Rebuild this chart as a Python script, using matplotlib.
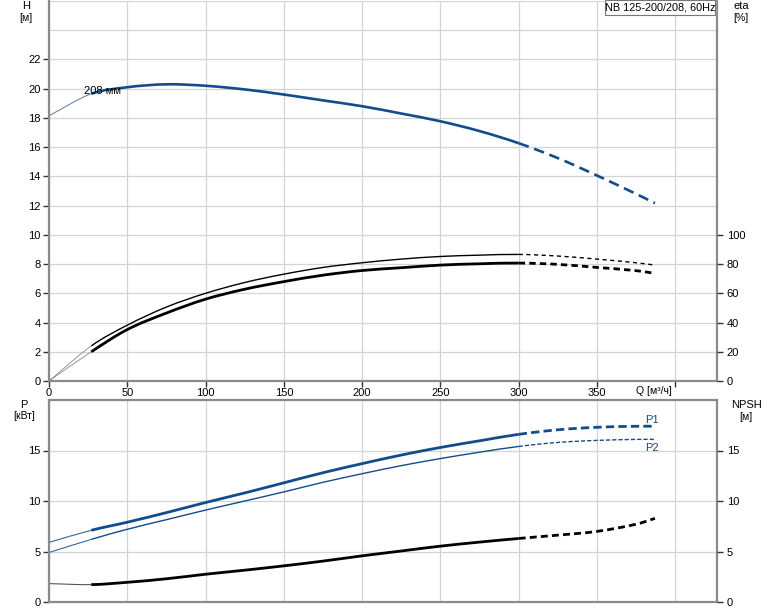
import matplotlib
matplotlib.use("Agg")
import matplotlib.pyplot as plt
from matplotlib.patches import Rectangle, PathPatch
from matplotlib.path import Path

plt.rcParams['font.family'] = ['Liberation Sans', 'DejaVu Sans']

# ---------------- data ----------------
Q = [0, 27, 50, 75, 100, 125, 150, 175, 200, 225, 250, 275, 300, 325, 350, 375, 387]
H = [18.15, 19.65, 20.1, 20.3, 20.2, 19.95, 19.6, 19.2, 18.8, 18.3, 17.77, 17.1, 16.27, 15.25, 14.06, 12.8, 12.17]
ETA_UP = [0, 24, 38.2, 50.6, 60.0, 67.4, 73.1, 77.7, 80.9, 83.4, 85.2, 86.1, 86.6, 85.5, 83.4, 80.9, 79.3]
ETA_LO = [0, 20, 35.2, 46.5, 56.0, 62.8, 68.0, 72.4, 75.6, 77.5, 79.3, 80.2, 80.7, 79.8, 77.7, 75.5, 73.6]
P1 = [5.9, 7.1, 7.9, 8.85, 9.85, 10.8, 11.8, 12.8, 13.7, 14.55, 15.3, 15.96, 16.6, 17.05, 17.3, 17.4, 17.4]
P2 = [4.9, 6.2, 7.2, 8.15, 9.1, 10.0, 10.9, 11.85, 12.7, 13.5, 14.2, 14.83, 15.4, 15.8, 16.0, 16.1, 16.1]
NPSH = [1.82, 1.72, 1.95, 2.3, 2.75, 3.15, 3.58, 4.05, 4.57, 5.05, 5.53, 5.93, 6.29, 6.62, 6.99, 7.7, 8.28]

H_TICKS = [0, 2, 4, 6, 8, 10, 12, 14, 16, 18, 20, 22]
ETA_TICKS = [0, 20, 40, 60, 80, 100]
P_TICKS = [0, 5, 10, 15]
Q_TICKS = [0, 50, 100, 150, 200, 250, 300, 350]
TITLE = "NB 125-200/208, 60Hz"
CURVE_LABEL = "208 мм"

BLUE = '#124c8c'
GRID = '#d4d4d4'
SPINE = '#8a8a8a'
FS = 8

W, Hh = 774, 611
fig = plt.figure(figsize=(W / 100, Hh / 100), dpi=100)


def fx(px):
    return px / W


def fy(py):
    return 1 - py / Hh


xl, xr = 49, 717
xmax = (xr - xl) / 1.5657

ax1 = fig.add_axes([fx(xl), fy(381), fx(xr - xl), (381 - 1) / Hh])
ax2 = fig.add_axes([fx(xl), fy(602), fx(xr - xl), (602 - 400) / Hh])

i0 = 1   # index where operating range starts
i1 = 12  # index of Q=300, dashed after


def slopes(xs, ys):
    n = len(xs)
    m = []
    for i in range(n):
        if i == 0:
            m.append((ys[1] - ys[0]) / (xs[1] - xs[0]))
        elif i == n - 1:
            m.append((ys[-1] - ys[-2]) / (xs[-1] - xs[-2]))
        else:
            m.append((ys[i + 1] - ys[i - 1]) / (xs[i + 1] - xs[i - 1]))
    return m


def smooth_path(xs, ys, a, b):
    m = slopes(xs, ys)
    verts = [(xs[a], ys[a])]
    codes = [Path.MOVETO]
    for i in range(a, b):
        dx = xs[i + 1] - xs[i]
        verts += [(xs[i] + dx / 3, ys[i] + m[i] * dx / 3),
                  (xs[i + 1] - dx / 3, ys[i + 1] - m[i + 1] * dx / 3),
                  (xs[i + 1], ys[i + 1])]
        codes += [Path.CURVE4] * 3
    return Path(verts, codes)


def seg(ax, y, a, b, color, lw, ls='solid'):
    p = PathPatch(smooth_path(Q, y, a, b), fill=False, edgecolor=color, lw=lw,
                  linestyle=ls, capstyle='butt')
    ax.add_patch(p)


def draw(ax, y, color, lw_main, dash, thin_color, lw_start):
    seg(ax, y, 0, i0, thin_color, lw_start)
    seg(ax, y, i0, i1, color, lw_main)
    seg(ax, y, i1, len(Q) - 1, color, lw_main, (0, dash))


for ax in (ax1, ax2):
    ax.set_xlim(0, xmax)
    ax.set_xticks([0, 50, 100, 150, 200, 250, 300, 350, 400])
    ax.grid(True, color=GRID, lw=0.9)
    ax.set_axisbelow(True)
    for s in ('left', 'bottom', 'right', 'top'):
        ax.spines[s].set_color(SPINE)
        ax.spines[s].set_linewidth(1.6)
    ax.tick_params(axis='both', colors='#333333', labelcolor='black', labelsize=FS,
                   length=4, width=1, direction='out', pad=2)

ax1.spines['top'].set_visible(False)

# top panel
ax1.set_ylim(0, 26)
ax1.set_yticks(H_TICKS)
for g in (24, 26):
    ax1.axhline(g, color=GRID, lw=0.9, zorder=0)
ax1.set_xticklabels([str(t) for t in Q_TICKS] + [''])
ax1.tick_params(axis='x', pad=1)

draw(ax1, H, BLUE, 1.9, (4, 2.2), '#5577aa', 0.7)
eta_up_h = [v / 10 for v in ETA_UP]
eta_lo_h = [v / 10 for v in ETA_LO]
draw(ax1, eta_up_h, 'black', 1.0, (3, 2.5), '#888888', 0.6)
draw(ax1, eta_lo_h, 'black', 2.0, (2.3, 1.5), '#888888', 0.6)

ax1.text(22.3, 19.86, CURVE_LABEL, fontsize=FS, va='center', ha='left')

ax1r = ax1.twinx()
ax1r.set_ylim(0, 260)
ax1r.set_yticks(ETA_TICKS)
ax1r.tick_params(axis='y', labelsize=FS, length=4, width=1, colors='#333333',
                 labelcolor='black', pad=3)
for s in ax1r.spines.values():
    s.set_visible(False)

# bottom panel
ax2.set_ylim(0, 20)
ax2.set_yticks(P_TICKS)
ax2.axhline(20, color=GRID, lw=0.9, zorder=0)
ax2.tick_params(axis='x', labelbottom=False, length=0)

draw(ax2, P1, BLUE, 2.0, (3, 1.5), '#3a64a0', 0.8)
draw(ax2, P2, BLUE, 1.0, (3, 1.5), '#3a64a0', 0.8)
draw(ax2, NPSH, 'black', 2.0, (2.5, 1.5), '#555555', 0.8)

ax2.text(381, 18.0, 'P1', fontsize=FS, color=BLUE, ha='left', va='center')
ax2.text(381, 15.2, 'P2', fontsize=FS, color=BLUE, ha='left', va='center')

ax2r = ax2.twinx()
ax2r.set_ylim(0, 20)
ax2r.set_yticks(P_TICKS)
ax2r.tick_params(axis='y', labelsize=FS, length=4, width=1, colors='#333333',
                 labelcolor='black', pad=3)
for s in ax2r.spines.values():
    s.set_visible(False)

# axis titles
fig.text(fx(26), fy(6), 'H', fontsize=FS, ha='center', va='center')
fig.text(fx(26), fy(18), '[м]', fontsize=7.5, ha='center', va='center')
fig.text(fx(741), fy(6), 'eta', fontsize=FS, ha='center', va='center')
fig.text(fx(741), fy(18), '[%]', fontsize=7.5, ha='center', va='center')
fig.text(fx(24), fy(405), 'P', fontsize=FS, ha='center', va='center')
fig.text(fx(24), fy(416), '[кВт]', fontsize=7.5, ha='center', va='center')
fig.text(fx(746), fy(405), 'NPSH', fontsize=FS, ha='center', va='center')
fig.text(fx(746), fy(417), '[м]', fontsize=7.5, ha='center', va='center')
fig.text(fx(636), fy(391), 'Q [м³/ч]', fontsize=7.5, ha='left', va='center')

# title box
fig.patches.append(Rectangle((fx(607), fy(16)), fx(110), 15 / Hh, transform=fig.transFigure,
                             facecolor='#999999', edgecolor='none', zorder=9))
fig.patches.append(Rectangle((fx(605), fy(15)), fx(110), 15 / Hh, transform=fig.transFigure,
                             facecolor='white', edgecolor='#777777', lw=0.8, zorder=10))
fig.text(fx(660), fy(7.5), TITLE, fontsize=7.8, ha='center', va='center', zorder=11)

fig.savefig('out.png', dpi=100)
